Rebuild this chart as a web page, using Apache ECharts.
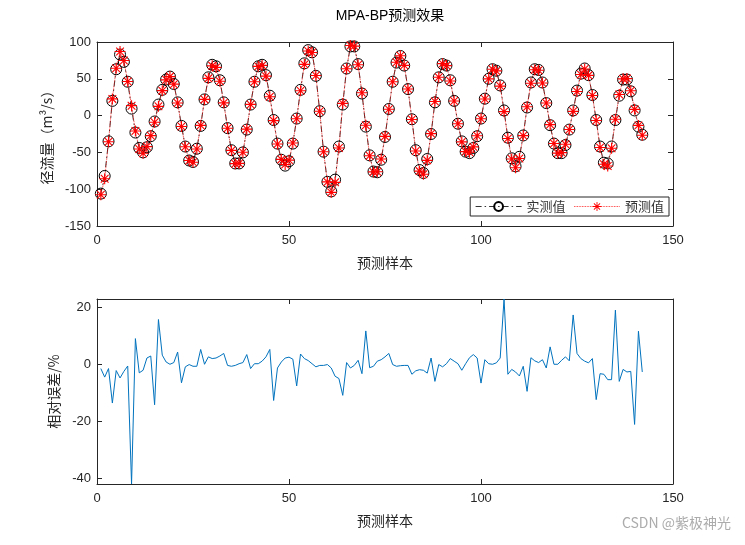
<!DOCTYPE html>
<html>
<head>
<meta charset="utf-8">
<script src="https://cdn.jsdelivr.net/npm/echarts@6/dist/echarts.min.js"></script>
<style>
  html, body { margin: 0; padding: 0; background: #fff; }
  #main { width: 745px; height: 545px; }
</style>
</head>
<body>
<div id="main"></div>
<script>
// 实测值
const measured = [-106,-82,-35,20,63,83,73,46,9.5,-23,
  -44,-50,-43,-28,-8,15,35,49,53,43,
  18,-14,-42,-61,-63,-45,-14,22,52,69,
  67,48,18,-17,-47,-65,-65,-50,-19,15,
  46,67,69,55,27,-6,-38,-60,-68,-62,
  -38,-4,35,71,89,86,54,6,-49,-90,
  -103,-87,-42,15,64,94,94,70,30,-15,
  -54,-76,-77,-60,-29,9,46,72,81,68,
  36,-5,-47,-74,-78,-59,-25,18,52,70,
  68,48,20,-11,-35,-49,-51,-44,-28,-4,
  23,50,63,61,41,7,-30,-58,-69,-56,
  -27,11,45,63,62,45,17,-13,-38,-51,
  -51,-40,-19,7,34,57,64,55,28,-6,
  -42,-64,-65,-42,-6,27,49,49,33,7,
  -15,-26];
// 预测值
const predicted = [-107.6,-85.7,-35.5,22.7,64.4,87,74.8,46.3,13.5,-20.9,
  -45.3,-51.1,-42.1,-27.2,-9.1,12.6,33.9,48.6,53,42.7,
  17.2,-14.9,-42.4,-61.1,-63.4,-45.3,-13.3,22,50.6,67.6,
  65.5,46.6,17.3,-17.1,-47.3,-65.3,-64.9,-49.7,-18.4,15.2,
  45.9,66.9,68.2,53.6,25.6,-6.8,-38.5,-59.5,-66.5,-60.5,
  -37.3,-4.3,33.7,69.6,87.8,85.8,54.5,6,-49.2,-90.1,
  -104.3,-90.7,-44.1,16.6,63.6,95.2,94.4,69,31,-13.2,
  -54.6,-76.5,-76.2,-59,-28.2,8.7,46,72.5,81.4,68.3,
  36.1,-5.2,-48.1,-75.4,-79.6,-60.8,-24.5,19.1,52.1,70.6,
  67.9,47,19.8,-11,-35.7,-48.9,-49.8,-42.5,-27.4,-4.3,
  22.6,49.9,63,60.7,40.1,5.4,-31.1,-59,-70.9,-58.3,
  -27.2,12,44,62.2,61.6,44.3,17.2,-12.2,-38,-51,
  -50.3,-39,-18.8,5.8,32.7,55.9,63.3,54.7,27.4,-6.7,
  -43.4,-66.2,-68.5,-44.3,-4.9,28.6,49.9,50.3,33.8,8.5,
  -13.3,-26.7];
// 相对误差 %
const relError = [-1.5,-4.5,-1.5,-13.6,-2.2,-4.8,-2.5,-0.6,-42,9,
  -3,-2.1,2.2,2.9,-14.2,15.7,3.2,0.8,0,0.6,
  4.3,-6.5,-0.9,-0.1,-0.7,-0.7,5.2,0,2.6,2,
  2.2,2.9,3.8,-0.4,-0.7,-0.4,0.2,0.6,3.4,-1.5,
  0.2,0.2,1.1,2.6,5.2,-12.7,-1.3,0.8,2.2,2.5,
  1.8,-7.6,3.6,2,1.3,0.2,-0.9,-0.4,-0.4,-0.1,
  -1.3,-4.2,-5,-10.9,0.6,-1.3,-0.4,1.4,-3.3,11.7,
  -1.2,-0.7,1.1,1.6,2.6,3.8,-0.1,-0.7,-0.5,-0.4,
  -0.4,-3.5,-2.3,-1.9,-2.1,-3.1,2.2,-6,-0.1,-0.9,
  0.2,2,1.1,0.2,-2.1,0.2,2.3,3.4,2.2,-6.6,
  1.6,0.2,0,0.5,2.2,22.9,-3.5,-1.8,-2.7,-4.1,
  -0.7,-9.5,2.3,1.2,0.6,1.6,-1.3,6.1,0,0,
  1.4,2.6,1.2,17.3,3.8,2,1.1,0.5,2,-12.4,
  -3.3,-3.5,-5.4,-5.4,19,-6,-1.8,-2.7,-2.5,-21.1,
  11.6,-2.7];
const errTicks = [-40, -20, 0, 20];

const toPairs = arr => arr.map((v, i) => [i + 1, v]);

const numFont = 'Liberation Sans, Arial, Noto Sans CJK SC';
const cjkFont = 'Noto Sans CJK SC';
const axisColor = '#262626';
// 星号标记
const asterisk = 'path://M9 0L11 0L11 20L9 20Z M0 9L20 9L20 11L0 11Z M2.3 3.7L3.7 2.3L17.7 16.3L16.3 17.7Z M16.3 2.3L17.7 3.7L3.7 17.7L2.3 16.3Z';

function mainX(gi, name) {
  return {
    type: 'value', gridIndex: gi, min: 0, max: 150, interval: 50,
    name: name, nameLocation: 'middle', nameGap: 30,
    nameTextStyle: { fontFamily: cjkFont, fontSize: 14, color: axisColor },
    axisLine: { onZero: false, lineStyle: { color: axisColor, width: 1 } },
    axisTick: { inside: true, length: 5, lineStyle: { color: axisColor } },
    axisLabel: { fontFamily: numFont, fontSize: 13, color: axisColor, margin: 8 },
    splitLine: { show: false }
  };
}
function mirrorX(gi) {
  return {
    type: 'value', gridIndex: gi, position: 'top', min: 0, max: 150, interval: 50,
    axisLine: { onZero: false, lineStyle: { color: axisColor, width: 1 } },
    axisTick: { inside: true, length: 5, lineStyle: { color: axisColor } },
    axisLabel: { show: false }, splitLine: { show: false }
  };
}

const option = {
  animation: false,
  backgroundColor: '#fff',
  title: {
    text: 'MPA-BP预测效果', left: 385, top: 4, textAlign: 'center',
    textStyle: { fontFamily: numFont, fontSize: 14, fontWeight: 'normal', color: '#000' }
  },
  graphic: [{
    type: 'text', right: 14, top: 516,
    style: { text: 'CSDN @紫极神光', fontFamily: cjkFont, fontSize: 14, fill: 'rgba(150,150,150,0.8)' }
  }],
  legend: {
    data: ['实测值', '预测值'],
    right: 76, top: 197, padding: [3, 5, 3, 5],
    itemWidth: 46, itemHeight: 11, itemGap: 8,
    backgroundColor: '#fff', borderColor: axisColor, borderWidth: 1, borderRadius: 0,
    lineStyle: { width: 0.8 },
    textStyle: { fontFamily: cjkFont, fontSize: 13, color: '#333' }
  },
  grid: [
    { left: 97, right: 72, top: 42, height: 184 },
    { left: 97, right: 72, top: 299, height: 185 }
  ],
  xAxis: [mainX(0, '预测样本'), mirrorX(0), mainX(1, '预测样本'), mirrorX(1)],
  yAxis: [
    {
      type: 'value', gridIndex: 0, min: -150, max: 100, interval: 50,
      name: '径流量（m³/s）', nameLocation: 'middle', nameGap: 36,
      nameTextStyle: { fontFamily: cjkFont, fontSize: 14, color: axisColor },
      axisLine: { onZero: false, lineStyle: { color: axisColor, width: 1 } },
      axisTick: { inside: true, length: 5, lineStyle: { color: axisColor } },
      axisLabel: { fontFamily: numFont, fontSize: 13, color: axisColor, margin: 6 },
      splitLine: { show: false }
    },
    {
      type: 'value', gridIndex: 0, position: 'right', min: -150, max: 100, interval: 50,
      axisLine: { onZero: false, lineStyle: { color: axisColor, width: 1 } },
      axisTick: { inside: true, length: 5, lineStyle: { color: axisColor } },
      axisLabel: { show: false }, splitLine: { show: false }
    },
    {
      type: 'value', gridIndex: 1,
      min: v => v.min, max: v => v.max,
      name: '相对误差/%', nameLocation: 'middle', nameGap: 36,
      nameTextStyle: { fontFamily: cjkFont, fontSize: 14, color: axisColor },
      axisLine: { onZero: false, lineStyle: { color: axisColor, width: 1 } },
      axisTick: { inside: true, length: 5, customValues: errTicks, lineStyle: { color: axisColor } },
      axisLabel: { fontFamily: numFont, fontSize: 13, color: axisColor, margin: 6, customValues: errTicks },
      splitLine: { show: false }
    },
    {
      type: 'value', gridIndex: 1, position: 'right',
      min: v => v.min, max: v => v.max,
      axisLine: { onZero: false, lineStyle: { color: axisColor, width: 1 } },
      axisTick: { inside: true, length: 5, customValues: errTicks, lineStyle: { color: axisColor } },
      axisLabel: { show: false }, splitLine: { show: false }
    }
  ],
  series: [
    {
      name: '实测值', type: 'line', xAxisIndex: 0, yAxisIndex: 0,
      data: toPairs(measured),
      symbol: 'circle', symbolSize: 11,
      itemStyle: { color: 'rgba(0,0,0,0)', borderColor: '#000', borderWidth: 1 },
      lineStyle: { color: '#000', width: 0.8, type: [6, 3, 1.5, 3] }
    },
    {
      name: '预测值', type: 'line', xAxisIndex: 0, yAxisIndex: 0,
      data: toPairs(predicted),
      symbol: asterisk, symbolSize: 11,
      itemStyle: { color: '#ff0000' },
      lineStyle: { color: '#ff0000', width: 0.8, type: 'dotted' }
    },
    {
      name: '相对误差', type: 'line', xAxisIndex: 2, yAxisIndex: 2,
      data: toPairs(relError),
      showSymbol: false, symbol: 'none',
      lineStyle: { color: '#0072BD', width: 1 }
    }
  ]
};

const chart = echarts.init(document.getElementById('main'), null, { renderer: 'canvas' });
chart.setOption(option);
</script>
</body>
</html>
